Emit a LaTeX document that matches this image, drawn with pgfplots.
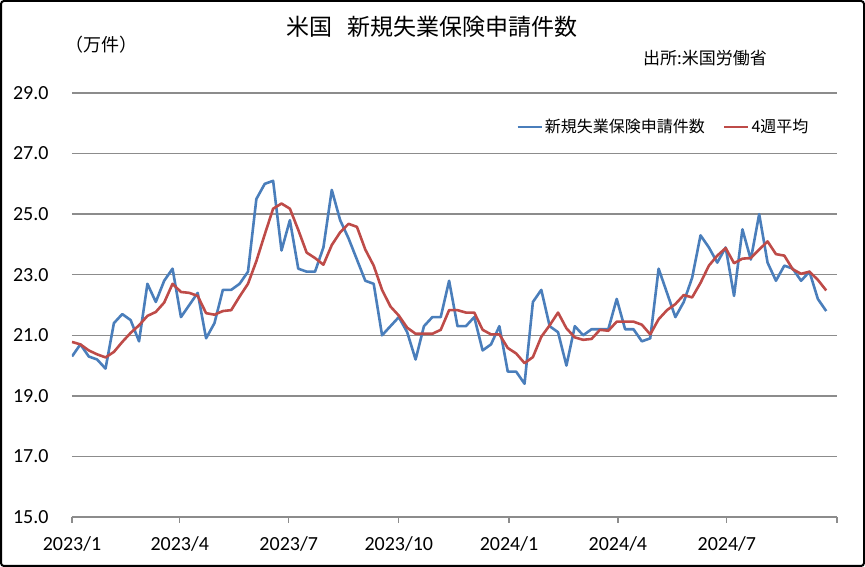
\documentclass[border=0pt]{standalone}
\usepackage{fontspec}
\setmainfont{Carlito}
\newfontfamily\jp{Noto Sans CJK JP}
\usepackage{pgfplots}
\usepackage{pgfplotstable}
\pgfplotsset{compat=1.18}
\definecolor{cblue}{HTML}{4A7EBB}
\definecolor{cred}{HTML}{BE4B48}
\definecolor{gridc}{HTML}{8C8C8C}
\pgfplotstableread{
x b r
0 20.3 20.78
7 20.7 20.70
14 20.3 20.50
21 20.2 20.37
28 19.9 20.27
35 21.4 20.45
42 21.7 20.78
49 21.5 21.08
56 20.8 21.33
63 22.7 21.64
70 22.1 21.77
77 22.8 22.08
84 23.2 22.70
91 21.6 22.43
98 22.0 22.40
105 22.4 22.30
112 20.9 21.73
119 21.4 21.68
126 22.5 21.80
133 22.5 21.83
140 22.7 22.28
147 23.1 22.70
154 25.5 23.45
161 26.0 24.33
168 26.1 25.18
175 23.8 25.35
182 24.8 25.18
189 23.2 24.48
196 23.1 23.73
203 23.1 23.55
210 23.9 23.33
217 25.8 23.98
224 24.8 24.40
231 24.2 24.68
238 23.5 24.58
245 22.8 23.83
252 22.7 23.30
259 21.0 22.50
266 21.3 21.95
273 21.6 21.65
280 21.1 21.25
287 20.2 21.05
294 21.3 21.05
301 21.6 21.05
308 21.6 21.18
315 22.8 21.83
322 21.3 21.83
329 21.3 21.75
336 21.6 21.75
343 20.5 21.18
350 20.7 21.03
357 21.3 21.03
364 19.8 20.58
371 19.8 20.40
378 19.4 20.08
385 22.1 20.28
392 22.5 20.95
399 21.3 21.33
406 21.1 21.75
413 20.0 21.23
420 21.3 20.93
427 21.0 20.85
434 21.2 20.88
441 21.2 21.18
448 21.2 21.15
455 22.2 21.45
462 21.2 21.45
469 21.2 21.45
476 20.8 21.35
483 20.9 21.03
490 23.2 21.53
497 22.4 21.83
504 21.6 22.03
511 22.1 22.33
518 22.9 22.25
525 24.3 22.73
532 23.9 23.30
539 23.4 23.63
546 23.9 23.88
553 22.3 23.38
560 24.5 23.53
567 23.5 23.55
574 25.0 23.83
581 23.4 24.10
588 22.8 23.68
595 23.3 23.63
602 23.2 23.18
609 22.8 23.03
616 23.1 23.10
623 22.2 22.83
630 21.8 22.48
}\data
\begin{document}
\begin{tikzpicture}[x=1pt,y=1pt]
\useasboundingbox (0,0) rectangle (865,567);
\draw[line width=2pt, rounded corners=3pt] (1,1) rectangle (864,566);
\node[font=\jp\fontsize{23}{26}\selectfont] at (432,540) {米国\hspace{16pt}新規失業保険申請件数};
\node[font=\jp\fontsize{18}{21}\selectfont] at (101,522) {（万件）};
\node[font=\jp\fontsize{17}{20}\selectfont] at (705,509) {出所:米国労働省};
\begin{axis}[
  at={(72pt,50pt)}, anchor=south west,
  scale only axis, width=765pt, height=424pt,
  xmin=0, xmax=639, ymin=15, ymax=29,
  axis x line*=bottom, axis y line*=left,
  x axis line style={draw=gridc, line width=1.5pt, -},
  y axis line style={draw=none},
  xtick={0,90,181,273,365,456,547,639},
  xticklabels={2023/1,2023/4,2023/7,2023/10,2024/1,2024/4,2024/7,{}},
  x tick style={draw=gridc, line width=1.2pt},
  tick align=outside,
  major tick length=6pt,
  ytick={15,17,...,29},
  y tick style={draw=none},
  ymajorgrids, grid style={draw=gridc, line width=1.5pt},
  yticklabel={\pgfmathprintnumber[fixed,fixed zerofill,precision=1]{\tick}},
  /pgf/number format/assume math mode=true,
  ticklabel style={font=\fontsize{20}{24}\selectfont},
  xticklabel style={yshift=-10pt},
  yticklabel style={xshift=-14pt},
  legend style={at={(0.773,0.92)}, anchor=center, draw=none, fill=none,
    font=\jp\fontsize{16}{19}\selectfont, legend columns=2,
    /tikz/every even column/.append style={column sep=16pt}},
  legend image code/.code={\draw[#1] (0pt,0pt) -- (24pt,0pt);},
]
\addplot[cblue, line width=2.6pt, line join=round] table[x=x, y=b] {\data};
\addlegendentry{新規失業保険申請件数}
\addplot[cred, line width=2.6pt, line join=round] table[x=x, y=r] {\data};
\addlegendentry{4週平均}
\end{axis}
\end{tikzpicture}
\end{document}
